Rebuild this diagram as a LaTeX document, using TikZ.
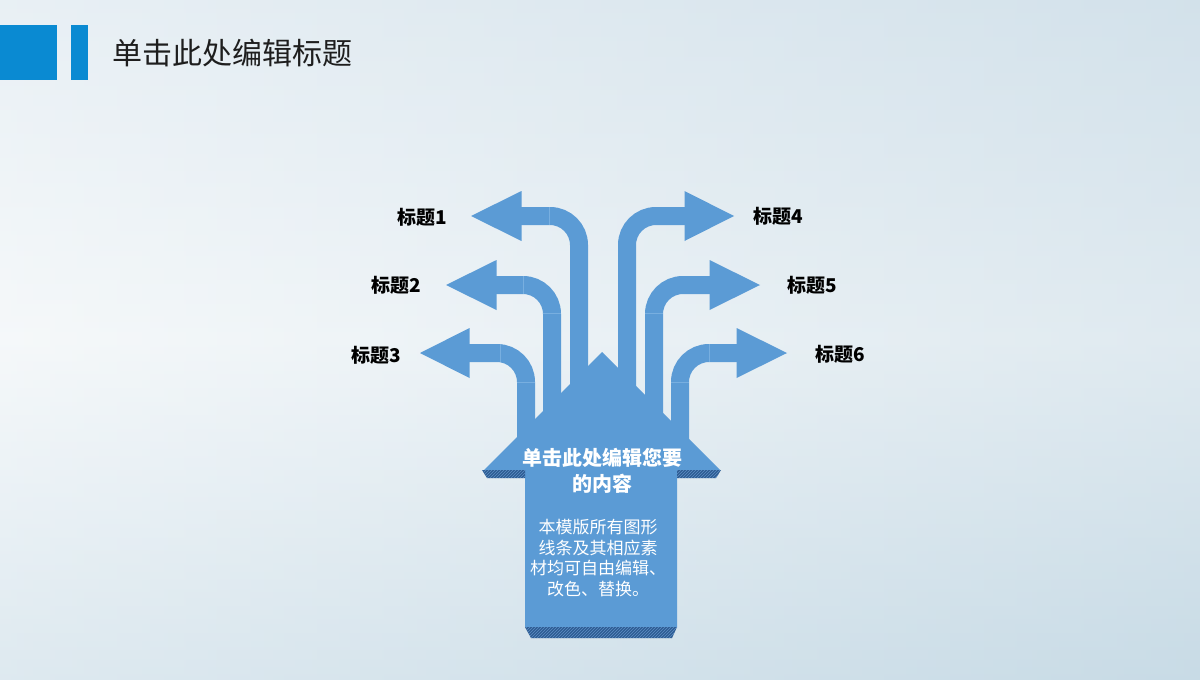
\documentclass[tikz,border=0pt]{standalone}
\usepackage{fontspec}
\setmainfont{Noto Sans CJK SC}
\usetikzlibrary{patterns}
\definecolor{arrowblue}{HTML}{5B9BD5}
\definecolor{barblue}{HTML}{0A8AD2}
\definecolor{darkstrip}{HTML}{2D5C92}
\definecolor{hatchc}{HTML}{5F8FC6}
\definecolor{segline}{HTML}{78AFE0}
\definecolor{bgtop}{HTML}{DAE6EE}
\definecolor{bgmid}{HTML}{EFF4F7}
\definecolor{bgbot}{HTML}{C8DBE6}
\definecolor{titlec}{HTML}{1E1E1E}
\tikzset{
  bentshaft/.style={draw=arrowblue, line width=18pt, rounded corners=29pt},
  headfill/.style={fill=arrowblue},
  segl/.style={draw=segline, line width=0.6pt},
  stripfill/.style={fill=darkstrip},
  hatchpat/.style={pattern=north east lines, pattern color=hatchc},
  lbl/.style={font=\fontsize{19}{22}\selectfont\bfseries, text=black, inner sep=0pt},
}
\begin{document}
\begin{tikzpicture}[x=1pt,y=-1pt]
\useasboundingbox (0,0) rectangle (1200,680);
% background
\shade[top color=bgtop, bottom color=bgbot, middle color=bgmid] (0,0) rectangle (1200,680);
\shade[left color=white, right color=bgbot, opacity=0.4] (0,0) rectangle (1200,680);
% title bars
\fill[barblue] (0,25) rectangle (57,80);
\fill[barblue] (71,25) rectangle (88,80);
\node[anchor=west, inner sep=0pt, text=titlec, font=\fontsize{30}{36}\selectfont] (title) at (112,53) {单击此处编辑标题};
% house
\fill[arrowblue] (602,352) -- (720,470) -- (677,470) -- (677,627) -- (525,627) -- (525,470) -- (484,470) -- cycle;
% dark 3D strips
\fill[stripfill] (482,470) -- (525,470) -- (525,478) -- (487,478) -- cycle;
\fill[hatchpat] (482,470) -- (525,470) -- (525,478) -- (487,478) -- cycle;
\fill[stripfill] (677,470) -- (721,470) -- (716,478) -- (677,478) -- cycle;
\fill[hatchpat] (677,470) -- (721,470) -- (716,478) -- (677,478) -- cycle;
\fill[stripfill] (525,627) -- (677,627) -- (672,638) -- (531,638) -- cycle;
\fill[hatchpat] (525,627) -- (677,627) -- (672,638) -- (531,638) -- cycle;
% bent shafts
\draw[bentshaft] (521,216) -- (579,216) -- (579,465);
\draw[bentshaft] (496,285) -- (552,285) -- (552,465);
\draw[bentshaft] (469,353) -- (526,353) -- (526,465);
\draw[bentshaft] (685,216) -- (627,216) -- (627,465);
\draw[bentshaft] (710,285) -- (654,285) -- (654,465);
\draw[bentshaft] (737,353) -- (680,353) -- (680,465);
% heads
\fill[headfill] (521.5,191) -- (521.5,241) -- (471,216) -- cycle;
\fill[headfill] (496.5,260) -- (496.5,310) -- (446,285) -- cycle;
\fill[headfill] (469.5,328) -- (469.5,378) -- (420,353) -- cycle;
\fill[headfill] (684.5,191) -- (684.5,241) -- (734,216) -- cycle;
\fill[headfill] (709.5,260) -- (709.5,310) -- (760,285) -- cycle;
\fill[headfill] (736.5,328) -- (736.5,378) -- (787,353) -- cycle;
% faint segment lines
\draw[segl] (549,207) -- (549,225);
\draw[segl] (523,276) -- (523,294);
\draw[segl] (543,313) -- (561,313);
\draw[segl] (500,344) -- (500,362);
\draw[segl] (517,382) -- (535,382);
\draw[segl] (645,313) -- (663,313);
\draw[segl] (709,344) -- (709,362);
\draw[segl] (671,382) -- (689,382);
% labels
\node[lbl, anchor=east] (t1) at (447,217) {标题1};
\node[lbl, anchor=east] (t2) at (421,285) {标题2};
\node[lbl, anchor=east] (t3) at (401,355) {标题3};
\node[lbl, anchor=west] (t4) at (753,216) {标题4};
\node[lbl, anchor=west] (t5) at (787,285) {标题5};
\node[lbl, anchor=west] (t6) at (815,354) {标题6};
% house texts
\node[text=white, align=center, inner sep=0pt, font=\fontsize{20}{26.5}\selectfont\bfseries] (head) at (602,471) {单击此处编辑您要\\的内容};
\node[text=white, align=center, inner sep=0pt, font=\fontsize{17}{20.5}\selectfont] (body) at (598,558) {本模版所有图形\\线条及其相应素\\材均可自由编辑、\\改色、替换。};
\end{tikzpicture}
\end{document}
